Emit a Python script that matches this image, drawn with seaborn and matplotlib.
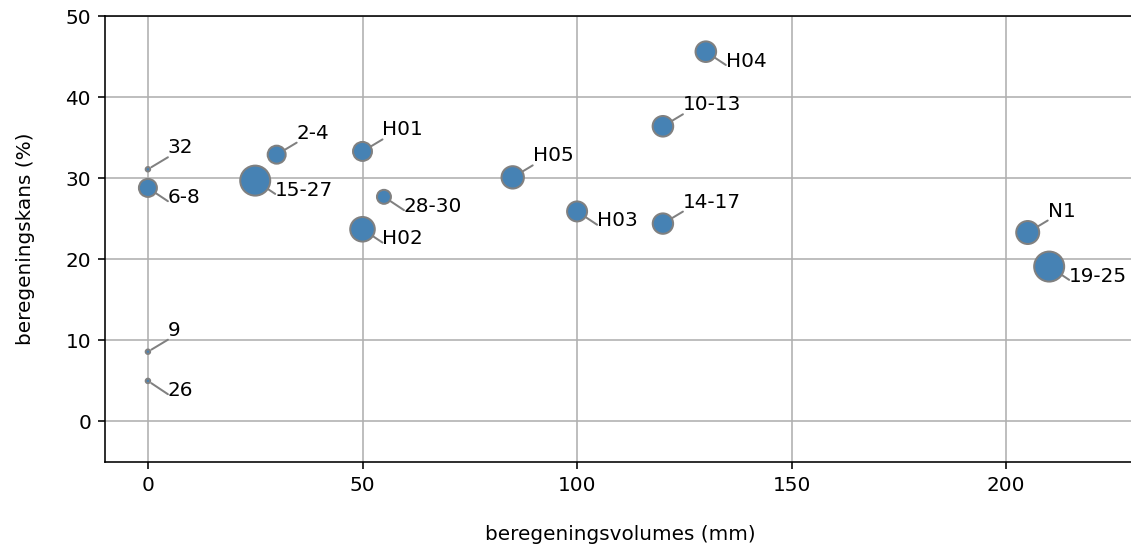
import matplotlib
matplotlib.use("Agg")
import matplotlib.pyplot as plt
import seaborn as sns
import pandas as pd

labels = ["32", "6-8", "9", "26", "15-27", "2-4", "H01", "H02", "28-30",
          "H05", "H03", "10-13", "14-17", "H04", "N1", "19-25"]
volumes = [0, 0, 0, 0, 25, 30, 50, 50, 55, 85, 100, 120, 120, 130, 205, 210]
kans = [31.1, 28.8, 8.6, 5.0, 29.7, 32.9, 33.3, 23.7, 27.7, 30.1, 25.9,
        36.4, 24.4, 45.6, 23.3, 19.1]
weights = [5, 81, 5, 5, 225, 81, 90, 151, 49, 125, 100, 106, 104, 106, 132, 225]
label_side = ["up", "down", "up", "down", "down", "up", "up", "down", "down",
              "up", "down", "up", "up", "down", "up", "down"]

df = pd.DataFrame({"volume": volumes, "kans": kans, "w": weights,
                   "label": labels, "side": label_side})

fig = plt.figure(figsize=(1131 / 144, 549 / 144), dpi=144)
ax = fig.add_axes([105 / 1131, 87 / 549, (1135 - 105) / 1131, 446 / 549])

sns.scatterplot(data=df, x="volume", y="kans", size="w",
                sizes=(min(weights), max(weights)),
                size_norm=(min(weights), max(weights)),
                color="steelblue", edgecolor="gray", linewidth=1,
                legend=False, ax=ax, zorder=3)

for _, r in df.iterrows():
    if r["side"] == "up":
        off, va, rel = (10, 6), "bottom", (0, 0)
    else:
        off, va, rel = (10, 0), "top", (0, 0.3)
    ax.annotate(r["label"], xy=(r["volume"], r["kans"]), xytext=off,
                textcoords="offset points", ha="left", va=va, fontsize=10,
                zorder=2,
                arrowprops=dict(arrowstyle="-", color="gray", lw=1,
                                relpos=rel, patchA=None, shrinkA=0,
                                shrinkB=2))

ax.set_xlim(-10, 230)
ax.set_ylim(-5, 50)
ax.set_xticks([0, 50, 100, 150, 200])
ax.set_yticks([0, 10, 20, 30, 40, 50])
ax.grid(True, color="#b0b0b0", linewidth=0.8)
ax.set_axisbelow(True)
ax.set_xlabel("beregeningsvolumes (mm)", labelpad=15)
ax.set_ylabel("beregeningskans (%)", labelpad=15)

fig.savefig("out.png", dpi=144)
